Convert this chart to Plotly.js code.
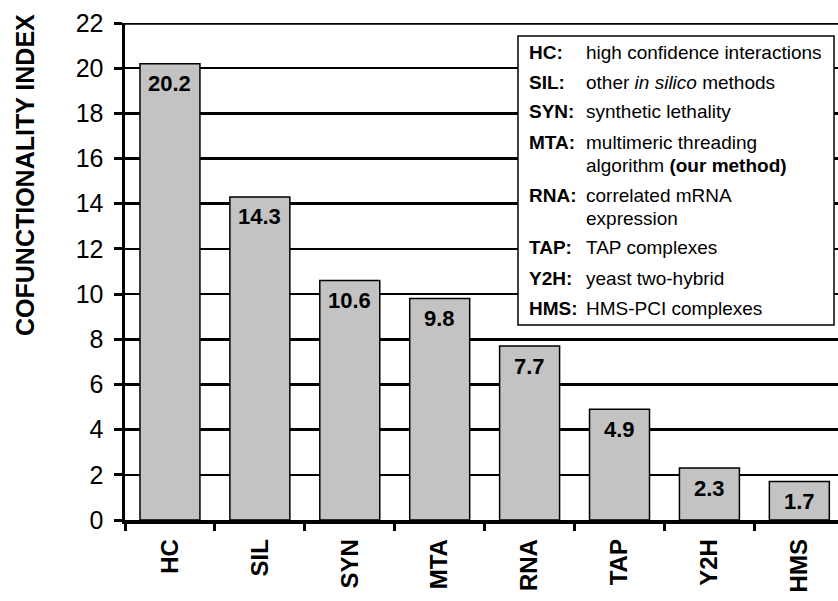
<!DOCTYPE html>
<html>
<head>
<meta charset="utf-8">
<script src="https://cdn.plot.ly/plotly-3.0.1.min.js"></script>
<style>html,body{margin:0;padding:0;background:#fff;}#chart{width:838px;height:601px;}</style>
</head>
<body>
<div id="chart"></div>
<script>
// ---- data ----
var categories = ['HC', 'SIL', 'SYN', 'MTA', 'RNA', 'TAP', 'Y2H', 'HMS'];
var values = [20.2, 14.3, 10.6, 9.8, 7.7, 4.9, 2.3, 1.7];
var valueLabels = ['20.2', '14.3', '10.6', '9.8', '7.7', '4.9', '2.3', '1.7'];
var yTickVals = [0, 2, 4, 6, 8, 10, 12, 14, 16, 18, 20, 22];
var legendCodes = ['HC:', 'SIL:', 'SYN:', 'MTA:', 'RNA:', 'TAP:', 'Y2H:', 'HMS:'];
var legendDescs = [
  ['high confidence interactions'],
  ['other <i>in silico</i> methods'],
  ['synthetic lethality'],
  ['multimeric threading', 'algorithm <b>(our method)</b>'],
  ['correlated mRNA', 'expression'],
  ['TAP complexes'],
  ['yeast two-hybrid'],
  ['HMS-PCI complexes']
];
var yTitle = 'COFUNCTIONALITY INDEX';

// ---- layout helpers ----
var W = 838, H = 601, ML = 125, MR = 0, MT = 23, MB = 81;
var PW = W - ML - MR, PH = H - MT - MB;
function px2x(px) { return (px - ML) / PW; }
function px2y(py) { return (MT + PH - py) / PH; }
var FONT = 'Liberation Sans, Arial, Helvetica, sans-serif';

var annotations = [];
// value labels inside bars
for (var i = 0; i < categories.length; i++) {
  annotations.push({
    x: categories[i], y: values[i], xref: 'x', yref: 'y',
    text: '<b>' + valueLabels[i] + '</b>', showarrow: false,
    yanchor: 'middle', xanchor: 'center', yshift: -20,
    font: {family: FONT, size: 22, color: '#000'}
  });
}
// legend box text
var rowY = 52;
for (var r = 0; r < legendCodes.length; r++) {
  annotations.push({
    x: px2x(527), y: px2y(rowY), xref: 'paper', yref: 'paper',
    text: '<b>' + legendCodes[r] + '</b>', showarrow: false,
    xanchor: 'left', yanchor: 'middle',
    font: {family: FONT, size: 19, color: '#000'}
  });
  for (var j = 0; j < legendDescs[r].length; j++) {
    annotations.push({
      x: px2x(584), y: px2y(rowY + 23 * j), xref: 'paper', yref: 'paper',
      text: legendDescs[r][j], showarrow: false,
      xanchor: 'left', yanchor: 'middle',
      font: {family: FONT, size: 19, color: '#000'}
    });
  }
  rowY += 30 + 23 * (legendDescs[r].length - 1);
}
// y title
annotations.push({
  x: px2x(25), y: px2y(175), xref: 'paper', yref: 'paper',
  text: '<b>' + yTitle + '</b>', showarrow: false, textangle: -90,
  xanchor: 'center', yanchor: 'middle',
  font: {family: FONT, size: 25, color: '#000'}
});

var trace = {
  type: 'bar', x: categories, y: values,
  marker: {color: '#c3c3c3', line: {color: '#000', width: 1.5}},
  hoverinfo: 'none'
};

var layout = {
  width: W, height: H,
  margin: {l: ML, r: MR, t: MT, b: MB, pad: 0},
  paper_bgcolor: '#fff', plot_bgcolor: '#fff',
  showlegend: false,
  bargap: 0.333,
  font: {family: FONT, color: '#000'},
  xaxis: {
    type: 'category', range: [-0.5, 7.43],
    tickson: 'boundaries', ticks: 'outside', ticklen: 7, tickwidth: 3, tickcolor: '#000',
    ticklabelstandoff: 6,
    tickangle: -90, tickfont: {family: FONT, size: 24, color: '#000', weight: 'bold'},
    showline: true, linecolor: '#000', linewidth: 3.5,
    showgrid: false, zeroline: false, fixedrange: true
  },
  yaxis: {
    range: [0, 22], tickvals: yTickVals, ticktext: yTickVals.map(String),
    ticks: 'outside', ticklen: 8, tickwidth: 3, tickcolor: '#000',
    ticklabelstandoff: 5,
    tickfont: {family: FONT, size: 25, color: '#000'},
    showline: true, linecolor: '#000', linewidth: 3.5,
    showgrid: true, gridcolor: '#000', gridwidth: 2.5,
    zeroline: false, fixedrange: true
  },
  shapes: [
    {type: 'line', xref: 'paper', yref: 'y', x0: 0, x1: 1, y0: 22, y1: 22,
     line: {color: '#000', width: 3.5}, layer: 'below'},
    {type: 'rect', xref: 'paper', yref: 'paper',
     x0: px2x(518), x1: px2x(834), y0: px2y(325), y1: px2y(36),
     fillcolor: '#fff', line: {color: '#000', width: 1.5}, layer: 'above'}
  ],
  annotations: annotations
};

Plotly.newPlot('chart', [trace], layout, {displayModeBar: false, staticPlot: true});
</script>
</body>
</html>
